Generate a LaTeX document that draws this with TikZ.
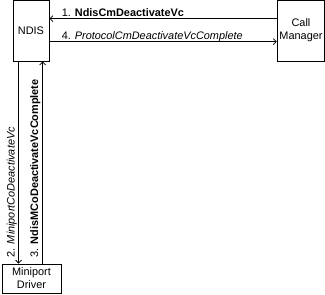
\documentclass[tikz,border=0pt]{standalone}
\usepackage{fontspec}
\setmainfont{Liberation Sans}
\usetikzlibrary{arrows.meta}

\begin{document}
\begin{tikzpicture}[x=1pt,y=-1pt,line width=.8pt,>={Straight Barb[length=3pt,width=6pt]},
  font=\fontsize{10.9}{13}\selectfont,
  box/.style={draw,fill=white,align=center,inner sep=1pt},
  hlabel/.style={anchor=base west,inner sep=0pt},
  vlabel/.style={anchor=base west,inner sep=0pt,rotate=90}]
\useasboundingbox (0,0) rectangle (325,295);
\node[box,minimum width=36pt,minimum height=61pt] (ndis) at (31,30.5){NDIS};
\node[box,minimum width=47.5pt,minimum height=61pt] (cm) at (301,30.5){Call\\Manager};
\node[box,minimum width=59pt,minimum height=29pt] (mini) at (31.5,278.5){Miniport\\Driver};
% calls between NDIS and the call manager
\draw[<-] ([yshift=-19pt]ndis.north east)--([yshift=-19pt]cm.north west)
  node[hlabel,pos=0,xshift=12pt,yshift=2.5pt]{1. \textbf{NdisCmDeactivateVc}};
\draw[->] ([yshift=-42pt]ndis.north east)--([yshift=-42pt]cm.north west)
  node[hlabel,pos=0,xshift=12pt,yshift=2.5pt]{4. \textit{ProtocolCmDeactivateVcComplete}};
% calls between NDIS and the miniport
\draw[->] ([xshift=6pt]ndis.south west)--([xshift=6pt]ndis.south west|-mini.north);
\draw[<-] ([xshift=30pt]ndis.south west)--([xshift=30pt]ndis.south west|-mini.north);
\node[vlabel] (l2) at ([xshift=13pt,yshift=6pt]mini.north west){2. \textit{MiniportCoDeactivateVc}};
\node[vlabel] (l3) at ([xshift=36.5pt,yshift=6pt]mini.north west){3. \textbf{NdisMCoDeactivateVcComplete}};
\end{tikzpicture}
\end{document}
